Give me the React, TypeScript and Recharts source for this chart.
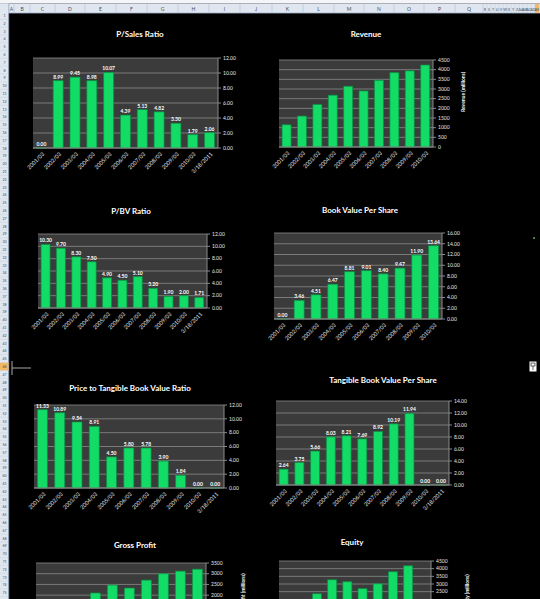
import React from "react";
import { BarChart, Bar, XAxis, YAxis, CartesianGrid, LabelList } from "recharts";

// categories
const toDate = ["2001/03", "2002/03", "2003/03", "2004/03", "2005/03", "2006/03", "2007/03", "2008/03", "2009/03", "2010/03", "3/18/2011"];
const fiscal = ["2001/03", "2002/03", "2003/03", "2004/03", "2005/03", "2006/03", "2007/03", "2008/03", "2009/03", "2010/03"];

// series
const psRatio = [0.0, 8.99, 9.45, 8.98, 10.07, 4.39, 5.13, 4.82, 3.3, 1.79, 2.06];
const revenue = [1150, 1600, 2200, 2680, 3140, 2900, 3450, 3850, 3940, 4240];
const pbvRatio = [10.3, 9.7, 8.3, 7.5, 4.9, 4.5, 5.1, 3.2, 1.9, 2.0, 1.71];
const bvps = [0.0, 3.46, 4.51, 6.47, 8.81, 9.01, 8.4, 9.47, 11.9, 13.64];
const ptbvRatio = [11.33, 10.89, 9.54, 8.91, 4.5, 5.8, 5.78, 3.9, 1.84, 0.0, 0.0];
const tbvps = [2.64, 3.75, 5.66, 8.03, 8.21, 7.69, 8.92, 10.19, 11.94, 0.0, 0.0];
const grossProfit = [1000, 1350, 1750, 2100, 2470, 2330, 2700, 3000, 3120, 3210];
const equity = [1300, 1680, 2370, 3280, 3150, 2700, 3020, 3800, 4190, 0];

// axis ticks (the two bottom charts only show their upper ticks on the sheet)
const ratioTicks = [0, 2, 4, 6, 8, 10, 12];
const bvpsTicks = [0, 2, 4, 6, 8, 10, 12, 14, 16];
const tbvpsTicks = [0, 2, 4, 6, 8, 10, 12, 14];
const revenueTicks = [0, 500, 1000, 1500, 2000, 2500, 3000, 3500, 4000, 4500];
const grossTicks = [2000, 2500, 3000, 3500];
const equityTicks = [2500, 3000, 3500, 4000, 4500];

const wideCols = ["A", "B", "C", "D", "E", "F", "G", "H", "I", "J", "K", "L", "M", "N", "O", "P", "Q"];
const narrowCols = ["R", "S", "T", "U", "V", "W", "X", "Y", "Z", "AA", "AB", "AC", "AD", "AE"];

const FONT = "Lato, 'Open Sans', sans-serif";
const GREEN = "#12dc66";
const EDGE = "#0a8f44";
const GRID = "#8a8a8a";
const PLOT = "#3b3b3b";
const TXT = "#e6e6e6";

const ML = 30, MT = 12, YW = 34, MR = 2, XH = 34;

function CatTick({ x, y, payload }: any) {
  const ax = x + 2;
  const ay = y + 1;
  return (
    <text x={ax} y={ay} dy="0.35em" transform={`rotate(-45 ${ax} ${ay})`} textAnchor="end"
      fontSize={5.5} fill={TXT} fontFamily={FONT}>
      {payload.value}
    </text>
  );
}

function Panel({ cats, vals, x0, y0, x1, y1, ticks, max, dec, labels, cut }: any) {
  const data = cats.map((c: string, i: number) => ({ c, v: vals[i] }));
  const W = ML + (x1 - x0) + YW + MR;
  const H = MT + (y1 - y0) + XH;
  return (
    <div style={{ position: "absolute", left: x0 - ML, top: y0 - MT }}>
      <BarChart width={W} height={H} data={data} barCategoryGap="20%"
        margin={{ top: MT, right: MR, bottom: 0, left: ML }}>
        <CartesianGrid vertical={false} stroke={GRID} fill={PLOT} strokeWidth={0.8} />
        <XAxis dataKey="c" interval={0} height={XH} tickLine={false} tickSize={2}
          axisLine={{ stroke: GRID }} tick={cut ? false : (p: any) => <CatTick {...p} />} />
        <YAxis orientation="right" width={YW} domain={[0, max]} ticks={ticks}
          interval={0} tickSize={3} tickMargin={2} axisLine={{ stroke: GRID }} tickLine={{ stroke: GRID }}
          tick={{ fontSize: 5, fill: TXT, fontFamily: FONT }}
          tickFormatter={(v: number) => v.toFixed(dec)} />
        <Bar dataKey="v" fill={GREEN} stroke={EDGE} strokeWidth={0.7} minPointSize={0.01}
          isAnimationActive={false}>
          {labels && (
            <LabelList dataKey="v" position="top" offset={2}
              formatter={(v: any) => Number(v).toFixed(2)}
              style={{ fontSize: 5, fill: "#ffffff", fontFamily: FONT, fontWeight: 700 }} />
          )}
        </Bar>
      </BarChart>
    </div>
  );
}

function Sheet() {
  const edges = [9, 14, 30, 55, 85, 116, 147, 178, 209, 240, 272, 303, 334, 364, 394, 424, 455, 483];
  const rows = Array.from({ length: 75 }, (_, i) => i + 1);
  return (
    <svg width={540} height={599} style={{ position: "absolute", left: 0, top: 0, pointerEvents: "none" }}>
      <rect x={0} y={0} width={540} height={3.5} fill="#f3f5f8" />
      <rect x={0} y={3.5} width={540} height={9.5} fill="#dfe6ef" />
      <line x1={0} y1={13} x2={540} y2={13} stroke="#9fb3cb" strokeWidth={0.8} />
      <rect x={0} y={3.5} width={8.5} height={596} fill="#dfe6ef" />
      <line x1={8.7} y1={3.5} x2={8.7} y2={599} stroke="#9fb3cb" strokeWidth={0.8} />
      <rect x={535} y={4} width={4} height={9} fill="#f4b860" />
      <rect x={0} y={362.6} width={8.5} height={7.8} fill="#f4b860" />
      {edges.map((e) => (
        <line key={e} x1={e} y1={4} x2={e} y2={13} stroke="#b4c3d6" strokeWidth={0.6} />
      ))}
      {wideCols.map((c, i) => (
        <text key={c} x={(edges[i] + edges[i + 1]) / 2} y={10.5} fontSize={5} fill="#3d4e66"
          fontFamily={FONT} textAnchor="middle">{c}</text>
      ))}
      {narrowCols.map((c, i) => (
        <g key={c}>
          <line x1={483 + i * 4 + 4} y1={4} x2={483 + i * 4 + 4} y2={13} stroke="#b4c3d6" strokeWidth={0.4} />
          <text x={485 + i * 4} y={10.5} fontSize={3.6} fill="#3d4e66" fontFamily={FONT} textAnchor="middle">{c}</text>
        </g>
      ))}
      {rows.map((r) => (
        <g key={r}>
          <line x1={0} y1={11.6 + 7.8 * r} x2={8.5} y2={11.6 + 7.8 * r} stroke="#c2cedd" strokeWidth={0.4} />
          <text x={4.5} y={17 + 7.8 * (r - 1)} fontSize={3.6} fill="#3d4e66" fontFamily={FONT} textAnchor="middle">{r}</text>
        </g>
      ))}

      {/* chart titles */}
      <g fontFamily={FONT} fontWeight={700} fill="#ffffff" fontSize={8} textAnchor="middle">
        <text x={140} y={37}>P/Sales Ratio</text>
        <text x={366} y={37}>Revenue</text>
        <text x={131} y={214}>P/BV Ratio</text>
        <text x={360} y={213}>Book Value Per Share</text>
        <text x={130} y={391}>Price to Tangible Book Value Ratio</text>
        <text x={383} y={383}>Tangible Book Value Per Share</text>
        <text x={135} y={548}>Gross Profit</text>
        <text x={352} y={545}>Equity</text>
      </g>
      <g fontFamily={FONT} fontWeight={700} fill="#ffffff" fontSize={5} textAnchor="middle">
        <text x={463} y={92} dy="0.35em" transform="rotate(-90 463 92)">Revenue (millions)</text>
        <text x={243} y={597} dy="0.35em" transform="rotate(-90 243 597)">Gross Profit (millions)</text>
        <text x={467} y={592} dy="0.35em" transform="rotate(-90 467 592)">Equity (millions)</text>
      </g>

      {/* cursor marks */}
      <line x1={12} y1={368} x2={31} y2={368} stroke="#a8a8a8" strokeWidth={1} />
      <line x1={12} y1={361} x2={12} y2={375} stroke="#a8a8a8" strokeWidth={1} />
      <rect x={529.5} y={361.5} width={7} height={10} fill="#ffffff" />
      <rect x={531} y={363} width={4} height={3} fill="none" stroke="#000" strokeWidth={0.6} />
      <line x1={533} y1={366} x2={533} y2={370} stroke="#000" strokeWidth={0.6} />
      <rect x={533} y={237} width={2} height={2} fill="#2f8f3f" />
    </svg>
  );
}

export default function App() {
  return (
    <div style={{ position: "fixed", left: 0, top: 0, width: 540, height: 599, overflow: "hidden", background: "#000" }}>
      <Panel cats={toDate} vals={psRatio} x0={33} y0={58} x1={218} y1={148} ticks={ratioTicks} max={12} dec={2} labels />
      <Panel cats={fiscal} vals={revenue} x0={279} y0={60} x1={433} y1={147} ticks={revenueTicks} max={4500} dec={0} labels={false} />
      <Panel cats={toDate} vals={pbvRatio} x0={38} y0={234} x1={207} y1={308} ticks={ratioTicks} max={12} dec={2} labels />
      <Panel cats={fiscal} vals={bvps} x0={274} y0={233} x1={442} y1={319} ticks={bvpsTicks} max={16} dec={2} labels />
      <Panel cats={toDate} vals={ptbvRatio} x0={34} y0={405} x1={224} y1={488} ticks={ratioTicks} max={12} dec={2} labels />
      <Panel cats={toDate} vals={tbvps} x0={276} y0={401} x1={449} y1={485} ticks={tbvpsTicks} max={14} dec={2} labels />
      <Panel cats={fiscal} vals={grossProfit} x0={36} y0={563} x1={206} y1={638} ticks={grossTicks} max={3500} dec={0} labels={false} cut />
      <Panel cats={fiscal} vals={equity} x0={279} y0={561} x1={431} y1={630} ticks={equityTicks} max={4500} dec={0} labels={false} cut />
      <Sheet />
    </div>
  );
}
